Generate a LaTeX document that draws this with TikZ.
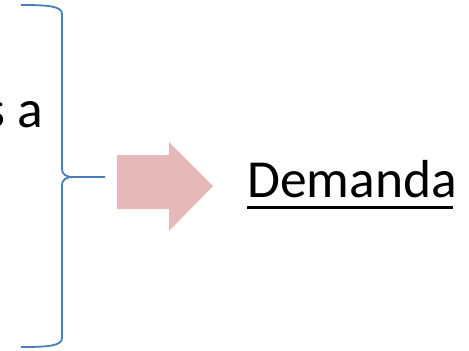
\documentclass[tikz,border=0pt]{standalone}
\usepackage{fontspec}
\setmainfont{Carlito}
\definecolor{bracecol}{HTML}{4A7EBB}
\definecolor{arrowcol}{HTML}{E6B9B8}
\begin{document}
\begin{tikzpicture}[x=1pt,y=-1pt,
  bigtext/.style={inner sep=0pt,font=\fontsize{53.5}{64}\selectfont},
  bracestyle/.style={draw=bracecol,line width=1.8pt}]
\useasboundingbox (0,0) rectangle (469,351);
\fill[white] (0,0) rectangle (469,351);
% brace
\draw[bracestyle] (21,5) .. controls (48,5) and (62,6) .. (62,14)
  -- (62,168) .. controls (62,175) and (66,177) .. (74,177) -- (105,177);
\draw[bracestyle] (74,177) .. controls (66,177) and (62,179) .. (62,186)
  -- (62,338) .. controls (62,346) and (48,347) .. (21,347);
\coordinate (bracetip) at (105,177);
% block arrow
\fill[arrowcol] (117,155) -- (169,155) -- (169,142) -- (213,186)
  -- (169,231) -- (169,209) -- (117,209) -- cycle;
% texts
\node[bigtext,anchor=base east] (sa) at (43,127) {s a};
\node[bigtext,anchor=base west] (dem) at (247,197) {Demanda};
\draw[line width=3pt] (dem.base west) ++(0,10) -- ++(206,0);
\end{tikzpicture}
\end{document}
